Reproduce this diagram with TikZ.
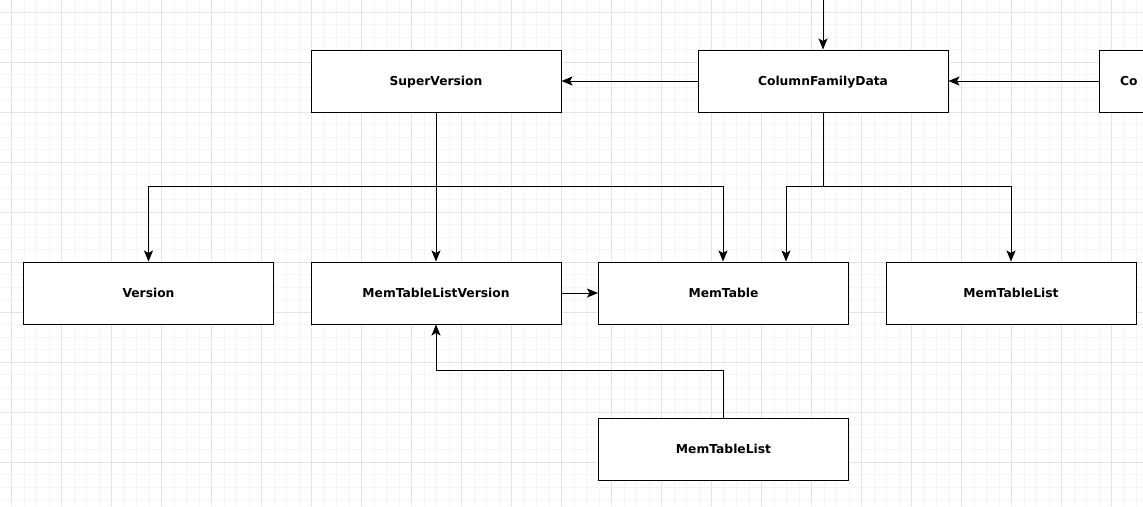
\documentclass[tikz,border=0pt]{standalone}
\usepackage{fontspec}
\setmainfont{DejaVu Sans}
\usetikzlibrary{calc,arrows.meta}

\begin{document}
\begin{tikzpicture}[x=1pt,y=-1pt]

\tikzset{
  classbox/.style={
    draw=black,
    line width=1pt,
    fill=white,
    rectangle,
    minimum width=250pt,
    minimum height=62pt,
    inner sep=0pt,
    text height=9pt,
    text depth=1pt,
    font=\bfseries\fontsize{12.3}{14}\selectfont
  },
  link/.style={
    black,
    line width=1pt,
    -{Stealth[length=11pt,width=9pt,inset=2.5pt]}
  },
  minorgrid/.style={
    color={rgb,255:red,245;green,245;blue,245},
    line width=1pt
  },
  majorgrid/.style={
    color={rgb,255:red,228;green,228;blue,228},
    line width=1pt
  }
}

% Page size
\useasboundingbox[fill=white] (0,0) rectangle (1143,506);

%%%%%%%%%%%%%%%%%%%%%%%%%%%%%%%%%%%%%%%%%%%%%%%%%%%%%%%%%%%%
%% Background grid
%%%%%%%%%%%%%%%%%%%%%%%%%%%%%%%%%%%%%%%%%%%%%%%%%%%%%%%%%%%%
\foreach \i in {0,...,92}{
  \draw[minorgrid] ({\i*12.5-1},0)--({\i*12.5-1},506);
}
\foreach \j in {0,...,40}{
  \draw[minorgrid] (0,{\j*12.5-0.2})--(1143,{\j*12.5-0.2});
}
\foreach \i in {0,...,23}{
  \draw[majorgrid] ({\i*50+11.5},0)--({\i*50+11.5},506);
}
\foreach \j in {0,...,10}{
  \draw[majorgrid] (0,{\j*50+12.3})--(1143,{\j*50+12.3});
}

%%%%%%%%%%%%%%%%%%%%%%%%%%%%%%%%%%%%%%%%%%%%%%%%%%%%%%%%%%%%
%% Boxes
%%%%%%%%%%%%%%%%%%%%%%%%%%%%%%%%%%%%%%%%%%%%%%%%%%%%%%%%%%%%

% Top row
\node[classbox] (superver) at (436,81) {SuperVersion};
\node[classbox] (cfd) at (823,81) {ColumnFamilyData};
\node[
  classbox,
  text width=208pt,
  align=left,
  inner xsep=21pt
] (cfset) at (1224,81) {Co};

% Middle row
\node[classbox] (version) at (148.5,293) {Version};
\node[classbox] (mtlver) at (436,293) {MemTableListVersion};
\node[classbox] (memtable) at (723.5,293) {MemTable};
\node[classbox] (mtlist) at (1011,293) {MemTableList};

% Bottom row
\node[classbox] (mtlistb) at (723.5,449) {MemTableList};

%%%%%%%%%%%%%%%%%%%%%%%%%%%%%%%%%%%%%%%%%%%%%%%%%%%%%%%%%%%%
%% Connectors
%%%%%%%%%%%%%%%%%%%%%%%%%%%%%%%%%%%%%%%%%%%%%%%%%%%%%%%%%%%%
\coordinate (topin) at (823,0);
\coordinate (svsplit) at ($(superver.south)+(0,74)$);
\coordinate (cfdsplit) at ($(cfd.south)+(0,74)$);
\coordinate (mtleft) at ($(memtable.north)+(-0.5,0)$);
\coordinate (mtright) at ($(memtable.north)+(62.5,0)$);
\coordinate (bend) at ($(mtlistb.north)+(0,-47)$);

\draw[link] (topin)--(cfd.north);
\draw[link] (cfd.west)--(superver.east);
\draw[link] (cfset.west)--(cfd.east);

% SuperVersion fan-out
\draw[link] (superver.south)--(mtlver.north);
\draw[link] (svsplit)-|(version.north);
\draw[link] (svsplit)-|(mtleft);

% ColumnFamilyData fan-out
\draw[link] (cfd.south)--(cfdsplit)-|(mtright);
\draw[link] (cfdsplit)-|(mtlist.north);

% Lower links
\draw[link] (mtlver.east)--(memtable.west);
\draw[link] (mtlistb.north)--(bend)-|(mtlver.south);

\end{tikzpicture}
\end{document}
